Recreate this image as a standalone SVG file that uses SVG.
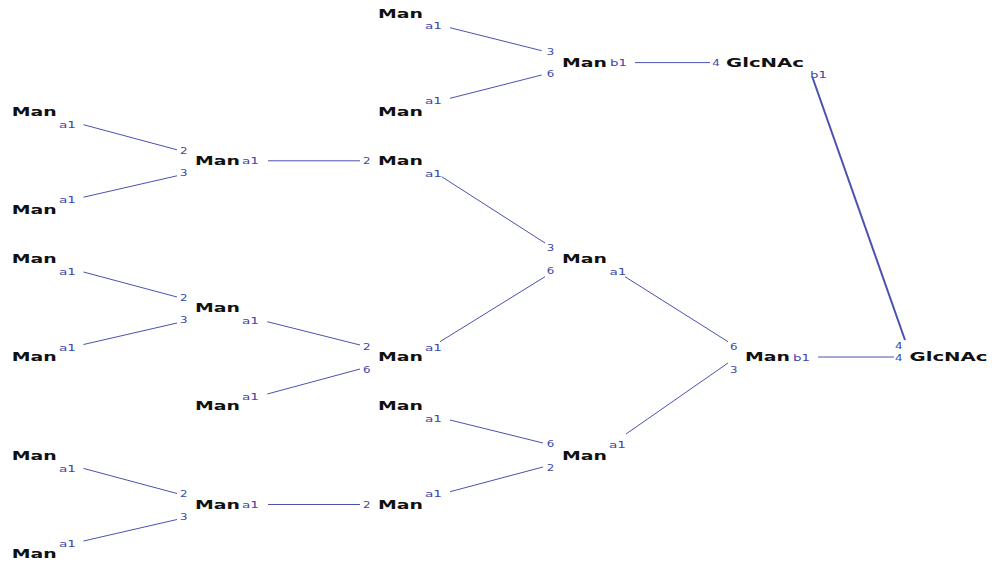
<svg xmlns="http://www.w3.org/2000/svg" width="993" height="565" viewBox="0 0 993 565">
  <style>
    .n { font-family: "DejaVu Sans", "Liberation Sans", sans-serif; font-weight: bold; font-size: 11.5px; fill: #111; }
    .l { font-family: "DejaVu Sans", "Liberation Sans", sans-serif; font-size: 9.5px; fill: #4048a8; }
    .links line { stroke: #4a52b0; stroke-width: 1; }
    .links line.thick { stroke-width: 2; }
  </style>
  <rect width="993" height="565" fill="#fff"/>

  <!-- glycosidic bonds -->
  <g id="links" class="links">
    <line x1="83.5" y1="124.7" x2="177" y2="149.8"/>
    <line x1="83.5" y1="197.2" x2="177" y2="175.8"/>
    <line x1="83.5" y1="272" x2="177" y2="297"/>
    <line x1="83.5" y1="344.5" x2="177" y2="323"/>
    <line x1="83.5" y1="468.4" x2="177" y2="493.5"/>
    <line x1="83.5" y1="541" x2="177" y2="519.5"/>
    <line x1="268" y1="160.8" x2="360" y2="160.8"/>
    <line x1="268" y1="504.5" x2="360" y2="504.5"/>
    <line x1="267.3" y1="321.7" x2="360" y2="345"/>
    <line x1="267.3" y1="394" x2="360" y2="369"/>
    <line x1="450" y1="27.7" x2="541.7" y2="50.7"/>
    <line x1="450" y1="98.3" x2="541.7" y2="75"/>
    <line x1="441.7" y1="176.7" x2="545" y2="243"/>
    <line x1="440" y1="341.7" x2="545" y2="276.7"/>
    <line x1="450" y1="420" x2="543" y2="443"/>
    <line x1="450" y1="491.7" x2="543" y2="467"/>
    <line x1="635" y1="62.6" x2="710" y2="62.6"/>
    <line x1="625" y1="276.7" x2="728" y2="341.7"/>
    <line x1="626" y1="434" x2="728" y2="363"/>
    <line x1="818" y1="357" x2="894" y2="357"/>
    <line class="thick" x1="812.7" y1="78" x2="905" y2="340"/>
  </g>

  <!-- outer mannose residues -->
  <g id="man-1">
    <text class="n" x="11.7" y="115.8" textLength="45" lengthAdjust="spacingAndGlyphs">Man</text>
    <text class="l" x="59" y="128" textLength="17" lengthAdjust="spacingAndGlyphs">a1</text>
  </g>
  <g id="man-2">
    <text class="n" x="11.7" y="214" textLength="45" lengthAdjust="spacingAndGlyphs">Man</text>
    <text class="l" x="59" y="203.2" textLength="17" lengthAdjust="spacingAndGlyphs">a1</text>
  </g>
  <g id="man-3">
    <text class="n" x="11.7" y="263.1" textLength="45" lengthAdjust="spacingAndGlyphs">Man</text>
    <text class="l" x="59" y="275.3" textLength="17" lengthAdjust="spacingAndGlyphs">a1</text>
  </g>
  <g id="man-4">
    <text class="n" x="11.7" y="361.3" textLength="45" lengthAdjust="spacingAndGlyphs">Man</text>
    <text class="l" x="59" y="350.5" textLength="17" lengthAdjust="spacingAndGlyphs">a1</text>
  </g>
  <g id="man-5">
    <text class="n" x="11.7" y="459.5" textLength="45" lengthAdjust="spacingAndGlyphs">Man</text>
    <text class="l" x="59" y="471.7" textLength="17" lengthAdjust="spacingAndGlyphs">a1</text>
  </g>
  <g id="man-6">
    <text class="n" x="11.7" y="557.7" textLength="45" lengthAdjust="spacingAndGlyphs">Man</text>
    <text class="l" x="59" y="546.9" textLength="17" lengthAdjust="spacingAndGlyphs">a1</text>
  </g>

  <!-- second column -->
  <g id="man-7">
    <text class="l" x="180" y="153.6" textLength="7.5" lengthAdjust="spacingAndGlyphs">2</text>
    <text class="l" x="180" y="176.1" textLength="7.5" lengthAdjust="spacingAndGlyphs">3</text>
    <text class="n" x="195" y="164.9" textLength="45" lengthAdjust="spacingAndGlyphs">Man</text>
    <text class="l" x="242" y="164.1" textLength="17" lengthAdjust="spacingAndGlyphs">a1</text>
  </g>
  <g id="man-8">
    <text class="l" x="180" y="300.9" textLength="7.5" lengthAdjust="spacingAndGlyphs">2</text>
    <text class="l" x="180" y="323.4" textLength="7.5" lengthAdjust="spacingAndGlyphs">3</text>
    <text class="n" x="195" y="312.2" textLength="45" lengthAdjust="spacingAndGlyphs">Man</text>
    <text class="l" x="242" y="324" textLength="17" lengthAdjust="spacingAndGlyphs">a1</text>
  </g>
  <g id="man-9">
    <text class="n" x="195" y="410.4" textLength="45" lengthAdjust="spacingAndGlyphs">Man</text>
    <text class="l" x="242" y="399.6" textLength="17" lengthAdjust="spacingAndGlyphs">a1</text>
  </g>
  <g id="man-10">
    <text class="l" x="180" y="497.3" textLength="7.5" lengthAdjust="spacingAndGlyphs">2</text>
    <text class="l" x="180" y="519.8" textLength="7.5" lengthAdjust="spacingAndGlyphs">3</text>
    <text class="n" x="195" y="508.6" textLength="45" lengthAdjust="spacingAndGlyphs">Man</text>
    <text class="l" x="242" y="507.8" textLength="17" lengthAdjust="spacingAndGlyphs">a1</text>
  </g>

  <!-- third column -->
  <g id="man-11">
    <text class="n" x="378" y="17.6" textLength="45" lengthAdjust="spacingAndGlyphs">Man</text>
    <text class="l" x="425" y="29.3" textLength="17" lengthAdjust="spacingAndGlyphs">a1</text>
  </g>
  <g id="man-12">
    <text class="n" x="378" y="115.8" textLength="45" lengthAdjust="spacingAndGlyphs">Man</text>
    <text class="l" x="425" y="104" textLength="17" lengthAdjust="spacingAndGlyphs">a1</text>
  </g>
  <g id="man-13">
    <text class="l" x="363" y="164.1" textLength="7.5" lengthAdjust="spacingAndGlyphs">2</text>
    <text class="n" x="378" y="164.9" textLength="45" lengthAdjust="spacingAndGlyphs">Man</text>
    <text class="l" x="425" y="176.6" textLength="17" lengthAdjust="spacingAndGlyphs">a1</text>
  </g>
  <g id="man-14">
    <text class="l" x="363" y="350" textLength="7.5" lengthAdjust="spacingAndGlyphs">2</text>
    <text class="l" x="363" y="373.3" textLength="7.5" lengthAdjust="spacingAndGlyphs">6</text>
    <text class="n" x="378" y="361.3" textLength="45" lengthAdjust="spacingAndGlyphs">Man</text>
    <text class="l" x="425" y="350.5" textLength="17" lengthAdjust="spacingAndGlyphs">a1</text>
  </g>
  <g id="man-15">
    <text class="n" x="378" y="410.4" textLength="45" lengthAdjust="spacingAndGlyphs">Man</text>
    <text class="l" x="425" y="422.1" textLength="17" lengthAdjust="spacingAndGlyphs">a1</text>
  </g>
  <g id="man-16">
    <text class="l" x="363" y="507.8" textLength="7.5" lengthAdjust="spacingAndGlyphs">2</text>
    <text class="n" x="378" y="508.6" textLength="45" lengthAdjust="spacingAndGlyphs">Man</text>
    <text class="l" x="425" y="497.3" textLength="17" lengthAdjust="spacingAndGlyphs">a1</text>
  </g>

  <!-- fourth column -->
  <g id="man-17">
    <text class="l" x="546.7" y="54.9" textLength="7.5" lengthAdjust="spacingAndGlyphs">3</text>
    <text class="l" x="546.7" y="77.3" textLength="7.5" lengthAdjust="spacingAndGlyphs">6</text>
    <text class="n" x="562" y="66.7" textLength="45" lengthAdjust="spacingAndGlyphs">Man</text>
    <text class="l" x="610" y="65.9" textLength="17" lengthAdjust="spacingAndGlyphs">b1</text>
  </g>
  <g id="man-18">
    <text class="l" x="546.7" y="251.3" textLength="7.5" lengthAdjust="spacingAndGlyphs">3</text>
    <text class="l" x="546.7" y="274.3" textLength="7.5" lengthAdjust="spacingAndGlyphs">6</text>
    <text class="n" x="562" y="263.1" textLength="45" lengthAdjust="spacingAndGlyphs">Man</text>
    <text class="l" x="609.5" y="275" textLength="17" lengthAdjust="spacingAndGlyphs">a1</text>
  </g>
  <g id="man-19">
    <text class="l" x="546.7" y="447.3" textLength="7.5" lengthAdjust="spacingAndGlyphs">6</text>
    <text class="l" x="546.7" y="471.3" textLength="7.5" lengthAdjust="spacingAndGlyphs">2</text>
    <text class="n" x="562" y="459.5" textLength="45" lengthAdjust="spacingAndGlyphs">Man</text>
    <text class="l" x="609" y="448.3" textLength="17" lengthAdjust="spacingAndGlyphs">a1</text>
  </g>

  <!-- core -->
  <g id="glcnac-1">
    <text class="l" x="712.3" y="65.9" textLength="7.5" lengthAdjust="spacingAndGlyphs">4</text>
    <text class="n" x="726" y="66.7" textLength="78" lengthAdjust="spacingAndGlyphs">GlcNAc</text>
    <text class="l" x="810" y="77.9" textLength="17" lengthAdjust="spacingAndGlyphs">b1</text>
  </g>
  <g id="man-core">
    <text class="l" x="730" y="350" textLength="7.5" lengthAdjust="spacingAndGlyphs">6</text>
    <text class="l" x="730" y="372.5" textLength="7.5" lengthAdjust="spacingAndGlyphs">3</text>
    <text class="n" x="745" y="361.3" textLength="45" lengthAdjust="spacingAndGlyphs">Man</text>
    <text class="l" x="793" y="360.5" textLength="17" lengthAdjust="spacingAndGlyphs">b1</text>
  </g>
  <g id="glcnac-root">
    <text class="l" x="895" y="349" textLength="7.5" lengthAdjust="spacingAndGlyphs">4</text>
    <text class="l" x="895" y="360.5" textLength="7.5" lengthAdjust="spacingAndGlyphs">4</text>
    <text class="n" x="909.5" y="361.3" textLength="78" lengthAdjust="spacingAndGlyphs">GlcNAc</text>
  </g>
</svg>
